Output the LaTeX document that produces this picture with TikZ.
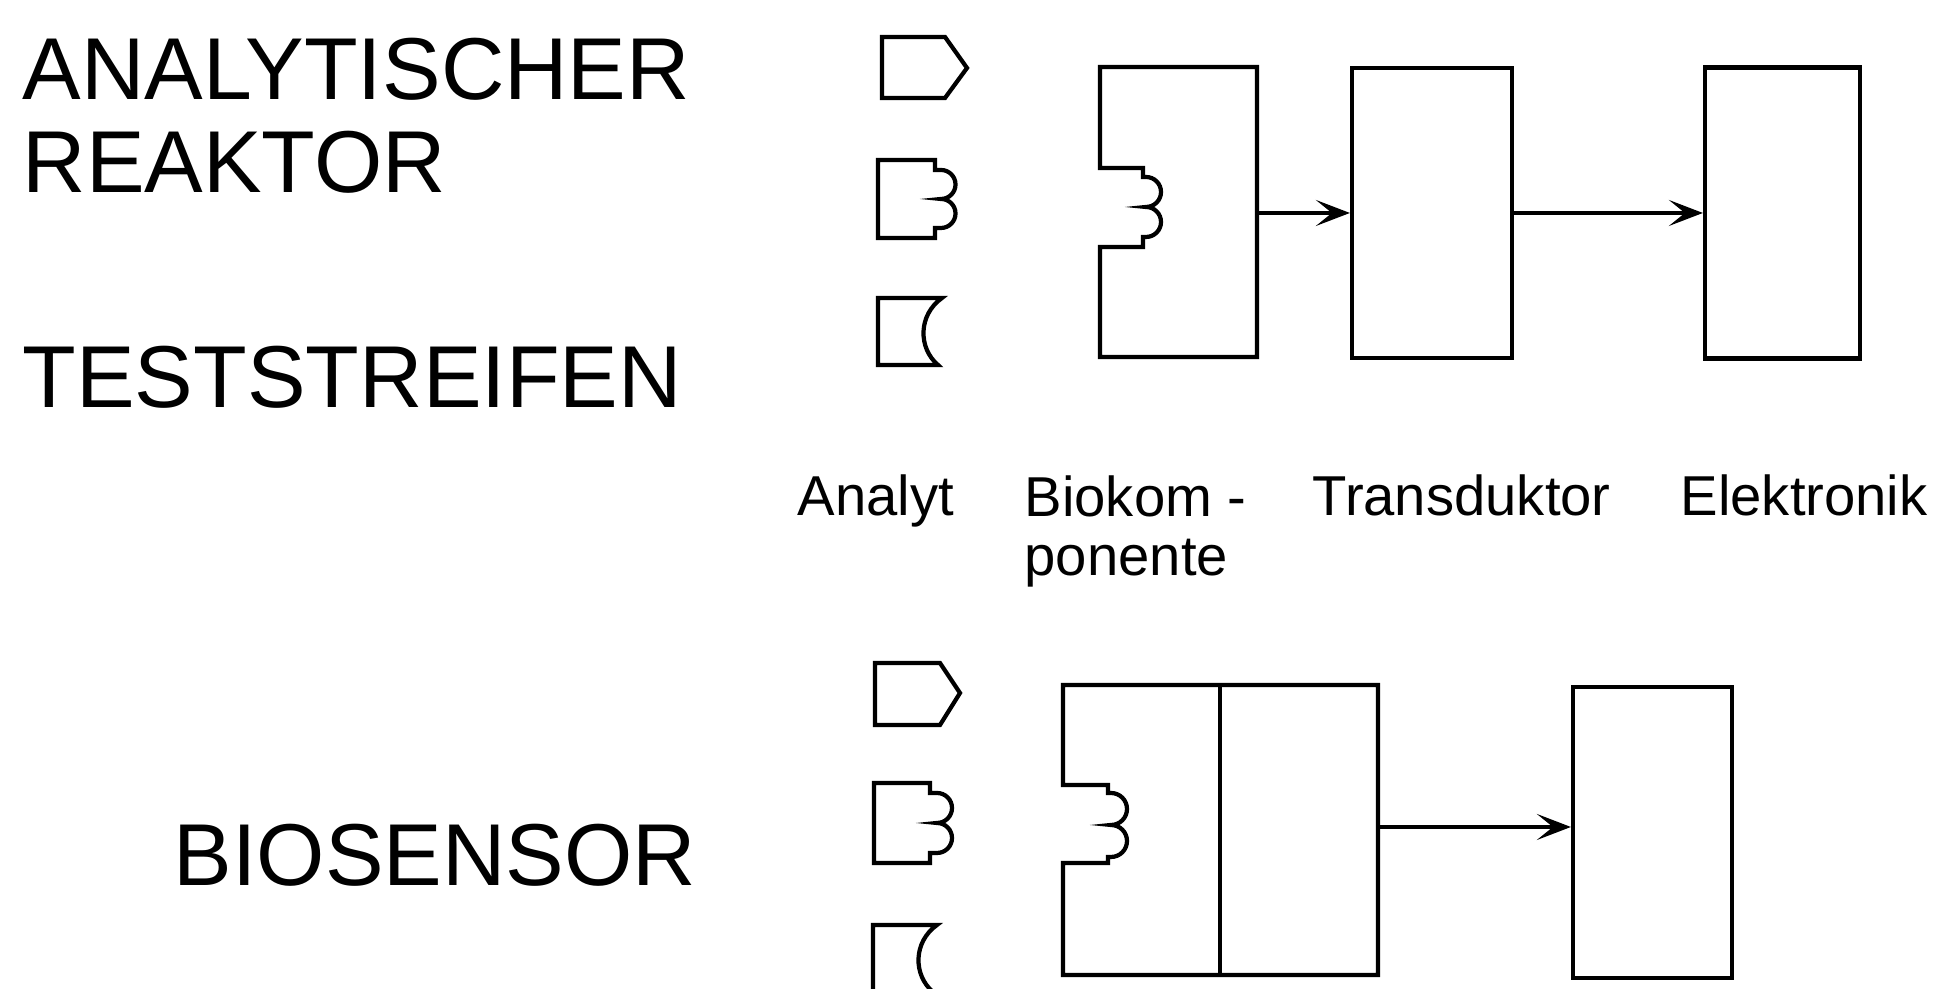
\documentclass[tikz,border=0pt]{standalone}
\usepackage{fontspec}
\setmainfont{Liberation Sans}
\usepackage{tikz}
\usetikzlibrary{positioning, arrows.meta, calc}

\tikzset{
  bigtitle/.style={font=\fontsize{25}{30}\selectfont, anchor=base west, inner sep=0pt},
  partlabel/.style={font=\fontsize{16}{17}\selectfont, anchor=base west, inner sep=0pt, align=left},
  outline/.style={line width=1.2pt, line join=miter},
  unitbox/.style={draw, line width=1.2pt, inner sep=0pt},
  flow/.style={-{Stealth[length=3.4mm, width=2.6mm, inset=1.6mm]}, line width=0.9pt},
}

\begin{document}
\begin{tikzpicture}[x=1mm, y=1mm]
        \clip (0,0) rectangle (193.5,98.9);
        \useasboundingbox (0,0) rectangle (193.5,98.9);
        % titles on the left
        \node[bigtitle] (tanal) at (2.2, 88.9) {ANALYTISCHER};
        \node[bigtitle] (treak) at (2.2, 79.6) {REAKTOR};
        \node[bigtitle] (ttest) at (2.2, 58.1) {TESTSTREIFEN};
        \node[bigtitle] (tbio) at (17.3, 10.3) {BIOSENSOR};
        % analyte shapes, upper row
        \draw[outline] (88.2,95.2) -- (94.5,95.2) -- (96.7,92.1) -- (94.5,89.1) -- (88.2,89.1) -- cycle;
        \draw[outline] (87.8,82.9) -- (93.5,82.9) -- (93.5,81.9) -- (94.1,81.9)
          arc[start angle=90, end angle=-90, radius=1.45] arc[start angle=90, end angle=-90, radius=1.45]
          -- (93.5,76.1) -- (93.5,75.1) -- (87.8,75.1) -- cycle;
        \draw[outline] (87.8,69.1) -- (94.2,69.1) .. controls (91.8,67.4) and (91.8,64.1) .. (93.8,62.4)
          -- (87.8,62.4) -- cycle;
        % biokomponente with receptor site
        \draw[outline] (110.0,92.2) -- (125.7,92.2) -- (125.7,63.2) -- (110.0,63.2) -- (110.0,74.2)
          -- (114.3,74.2) -- (114.3,75.2) -- (114.6,75.2)
          arc[start angle=-90, end angle=90, radius=1.5] arc[start angle=-90, end angle=90, radius=1.5]
          -- (114.3,81.2) -- (114.3,82.1) -- (110.0,82.1) -- cycle;
        \coordinate (bioout) at (125.7,77.6);
        \node[unitbox, minimum width=16mm, minimum height=29mm] (trans) at (143.2,77.6) {};
        \node[unitbox, minimum width=15.5mm, minimum height=29.1mm] (elek) at (178.25,77.6) {};
        \draw[flow] (bioout) -- (trans.west);
        \draw[flow] (trans.east) -- (elek.west);
        % labels
        \node[partlabel] (lanalyt) at (79.7,47.3) {Analyt};
        \node[partlabel] (lbio) at (102.4,41.3) {Biokom -\\ponente};
        \node[partlabel] (ltrans) at (131.2,47.3) {Transduktor};
        \node[partlabel] (lelek) at (168.0,47.3) {Elektronik};
        % analyte shapes, lower row
        \draw[outline] (87.5,32.6) -- (94.0,32.6) -- (96.0,29.6) -- (94.0,26.4) -- (87.5,26.4) -- cycle;
        \draw[outline] (87.4,20.6) -- (93.0,20.6) -- (93.0,19.6) -- (93.7,19.6)
          arc[start angle=90, end angle=-90, radius=1.5] arc[start angle=90, end angle=-90, radius=1.5]
          -- (93.0,13.6) -- (93.0,12.6) -- (87.4,12.6) -- cycle;
        \draw[outline] (87.3,-1) -- (87.3,6.4) -- (93.7,6.4) .. controls (91.3,4.7) and (91.3,1.4) .. (93.3,-0.3);
        % biosensor: biokomponente and transduktor in one unit
        \draw[outline] (106.3,30.4) -- (137.8,30.4) -- (137.8,1.4) -- (106.3,1.4) -- (106.3,12.6)
          -- (110.8,12.6) -- (110.8,13.2) -- (111.1,13.2)
          arc[start angle=-90, end angle=90, radius=1.6] arc[start angle=-90, end angle=90, radius=1.6]
          -- (110.8,19.6) -- (110.8,20.4) -- (106.3,20.4) -- cycle;
        \draw[outline] (122.0,30.4) -- (122.0,1.4);
        \coordinate (sensout) at (137.8,16.2);
        \node[unitbox, minimum width=15.9mm, minimum height=29.1mm] (elek2) at (165.25,15.65) {};
        \draw[flow] (sensout) -- (elek2.west |- sensout);
      \end{tikzpicture}
\end{document}
